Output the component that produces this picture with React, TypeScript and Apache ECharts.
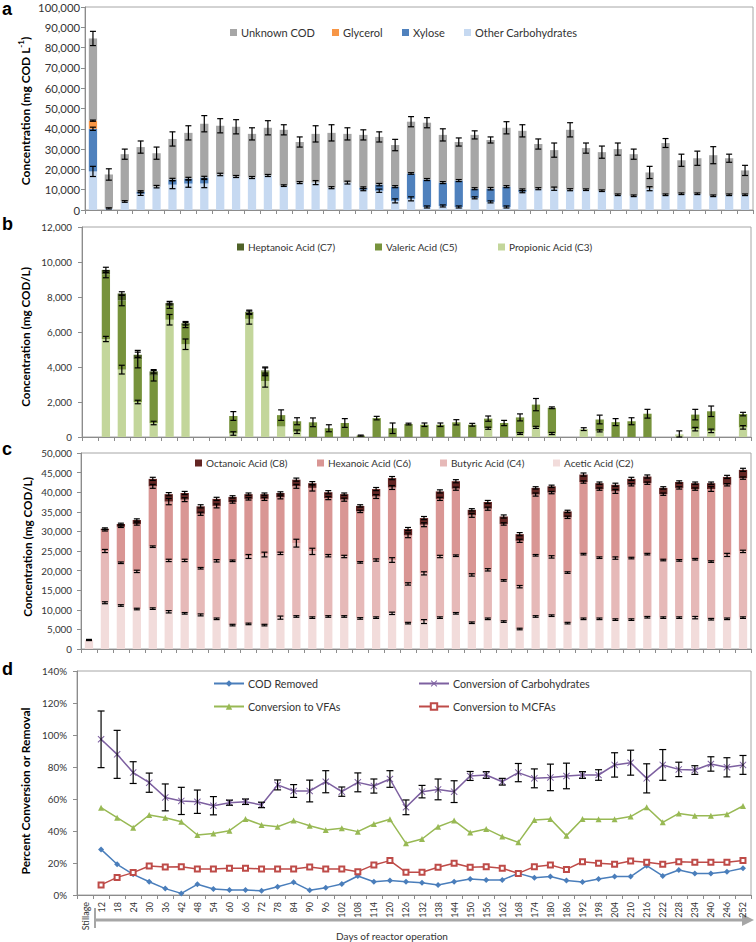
import React, { useEffect, useRef } from 'react';
import * as echarts from 'echarts';

const FONT = 'Lato, "Noto Sans", sans-serif';

const days = ['Stillage','12','18','24','30','36','42','48','54','60','66','72','78','84','90','96','102','108','114','120','126','132','138','144','150','156','162','168','174','180','186','192','198','204','210','216','222','228','234','240','246','252'];

// Panel a (mg COD/L)
const aTotal = [84500, 17500, 27500, 31000, 28000, 35000, 38000, 42500, 41500, 41000, 37500, 40500, 39500, 33500, 37500, 38000, 37500, 37000, 36000,
  32000, 43500, 43000, 37000, 33500, 37000, 34500, 40500, 39000, 32500, 29500, 39500, 30500, 28500, 30000, 27500, 18500, 33000, 24500, 25500, 27000, 25500, 19500];
const aOther = [19000, 800, 4200, 8000, 11500, 12500, 13000, 13000, 17500, 16500, 16000, 17000, 12000, 13500, 13500, 11000, 13500, 10000, 9500,
  4500, 5500, 1500, 2000, 1500, 6000, 4000, 1500, 9000, 10500, 10500, 10000, 10000, 9500, 7500, 7000, 10500, 7500, 8000, 8000, 7000, 7500, 7500];
const aXylose = [21000, 0, 0, 1000, 0, 2500, 2500, 3000, 0, 0, 0, 0, 0, 0, 0, 0, 0, 1000, 3000,
  7000, 12500, 13500, 11500, 13000, 4500, 6500, 10000, 1000, 0, 0, 0, 0, 0, 0, 0, 0, 0, 0, 0, 0, 0, 0];
const aGlycerol = [4000, 0, 0, 0, 0, 0, 0, 0, 0, 0, 0, 0, 0, 0, 0, 0, 0, 0, 0,
  0, 0, 0, 0, 0, 0, 0, 0, 0, 0, 0, 0, 0, 0, 0, 0, 0, 0, 0, 0, 0, 0, 0];
const aErrTotal = [3500, 2800, 2500, 3000, 3000, 3500, 3500, 4000, 3500, 3500, 3000, 3500, 2500, 2500, 4000, 4000, 3000, 2500, 2500,
  2800, 2500, 2500, 3000, 2000, 2000, 1500, 3000, 3000, 2500, 3500, 3500, 2500, 3000, 3000, 2500, 3000, 2200, 3000, 3500, 4200, 2000, 2500];
const aErrOther = [2500, 300, 400, 800, 600, 2000, 1800, 2000, 600, 500, 500, 500, 400, 500, 1000, 500, 700, 500, 800,
  1000, 1000, 500, 500, 500, 500, 500, 500, 500, 500, 800, 500, 400, 400, 400, 400, 1000, 400, 400, 400, 400, 400, 400];
const aErrXylose = [800, 0, 0, 500, 0, 600, 600, 600, 0, 0, 0, 0, 0, 0, 0, 0, 0, 400, 600,
  500, 400, 500, 500, 500, 500, 600, 500, 400, 0, 0, 0, 0, 0, 0, 0, 0, 0, 0, 0, 0, 0, 0];
const aErrGlycerol = [300, 0, 0, 0, 0, 0, 0, 0, 0, 0, 0, 0, 0, 0, 0, 0, 0, 0, 0,
  0, 0, 0, 0, 0, 0, 0, 0, 0, 0, 0, 0, 0, 0, 0, 0, 0, 0, 0, 0, 0, 0, 0];

// Panel b (mg COD/L)
const bC3 = [0, 5600, 3850, 2000, 800, 6700, 5300, 0, 0, 200, 6750, 3200, 600, 300, 0, 0, 0, 0, 0,
  0, 0, 0, 0, 0, 0, 500, 0, 200, 550, 200, 0, 450, 350, 0, 0, 0, 0, 150, 450, 350, 0, 550];
const bC5 = [0, 3700, 3950, 2450, 2700, 800, 1100, 0, 0, 1000, 350, 550, 650, 600, 840, 500, 800, 80, 1080,
  500, 740, 700, 700, 840, 700, 550, 800, 920, 1300, 1470, 0, 0, 650, 850, 900, 1330, 0, 0, 830, 1120, 0, 760];
const bC7 = [0, 250, 400, 250, 250, 150, 100, 0, 0, 0, 50, 50, 0, 0, 0, 0, 0, 0, 0,
  0, 0, 0, 0, 0, 0, 0, 0, 0, 0, 0, 0, 0, 0, 0, 0, 0, 0, 0, 0, 0, 0, 0];
const bErrC3 = [0, 150, 250, 100, 100, 300, 300, 0, 0, 100, 300, 350, 0, 100, 0, 0, 0, 0, 0,
  0, 0, 0, 0, 0, 0, 60, 0, 50, 60, 60, 0, 80, 60, 0, 0, 0, 0, 200, 100, 100, 0, 100];
const bErrC5 = [0, 200, 300, 500, 300, 150, 150, 0, 0, 250, 100, 250, 300, 200, 250, 200, 250, 30, 100,
  300, 50, 100, 100, 150, 80, 150, 150, 200, 350, 50, 0, 0, 250, 200, 200, 250, 0, 0, 300, 300, 0, 100];
const bErrC7 = [0, 150, 100, 150, 100, 100, 100, 0, 0, 0, 100, 150, 0, 0, 0, 0, 0, 0, 0,
  0, 0, 0, 0, 0, 0, 0, 0, 0, 0, 0, 0, 0, 0, 0, 0, 0, 0, 0, 0, 0, 0, 0];

// Panel c (mg COD/L)
const cC2 = [2300, 11800, 11100, 10200, 10300, 9500, 9100, 8700, 7700, 6100, 6400, 6100, 8000, 8300, 8000, 8300, 8300, 7800, 8000,
  9100, 6600, 7000, 8000, 9100, 6700, 7700, 7000, 5100, 8300, 8500, 6600, 7700, 7700, 7500, 7500, 8100, 8000, 8000, 8000, 7600, 7700, 8000];
const cC4 = [0, 13200, 10900, 9600, 15800, 13100, 13500, 11900, 14800, 16400, 17200, 18000, 16400, 18700, 16900, 15500, 15300, 14300, 14700,
  13600, 10000, 12300, 15600, 14700, 12200, 12500, 10500, 10800, 15600, 15000, 12900, 16500, 15600, 15700, 15700, 16100, 14700, 14600, 14900, 14700, 16300, 16900];
const cC6 = [0, 5300, 9200, 12100, 15400, 15000, 15500, 13900, 14000, 15000, 14700, 14200, 14300, 14500, 16200, 14700, 14500, 13000, 16200,
  18500, 12400, 12400, 14700, 17100, 15200, 15600, 14400, 11700, 15500, 16400, 14100, 18400, 17500, 17000, 18700, 18100, 16800, 18500, 17900, 18500, 17900, 18700];
const cC8 = [0, 400, 700, 1000, 1900, 1900, 1700, 1900, 1800, 1300, 1200, 1200, 1100, 1700, 1200, 1500, 1400, 1400, 1900,
  2400, 1600, 1700, 1900, 1900, 1400, 1700, 1900, 1700, 1700, 1600, 1500, 1900, 1500, 1700, 1500, 1700, 1600, 1500, 1500, 1500, 2000, 2100];
const cErrC2 = [150, 250, 200, 200, 200, 300, 200, 250, 200, 200, 200, 200, 400, 200, 200, 200, 200, 200, 200,
  300, 200, 500, 200, 200, 200, 200, 200, 200, 200, 200, 200, 200, 200, 200, 200, 200, 200, 200, 300, 200, 200, 200];
const cErrC4 = [0, 400, 200, 300, 200, 300, 300, 200, 300, 200, 500, 600, 300, 1000, 800, 300, 300, 200, 300,
  600, 300, 400, 300, 200, 300, 300, 200, 300, 200, 300, 200, 200, 200, 300, 200, 200, 200, 200, 200, 200, 400, 300];
const cErrC6 = [0, 200, 200, 300, 500, 800, 500, 400, 500, 300, 300, 400, 400, 500, 800, 400, 400, 300, 500,
  500, 600, 500, 400, 400, 500, 400, 300, 400, 400, 300, 300, 300, 300, 500, 300, 300, 300, 300, 300, 600, 300, 300];
const cErrC8 = [200, 200, 200, 300, 400, 400, 400, 400, 400, 300, 300, 300, 300, 400, 400, 400, 300, 300, 400,
  400, 400, 400, 400, 400, 300, 400, 400, 400, 300, 300, 300, 400, 300, 400, 400, 400, 300, 300, 300, 300, 400, 400];

// Panel d (%)
const dCOD = [null, 28.5, 19.2, 12.9, 8.3, 4.0, 1.0, 6.7, 3.8, 3.1, 3.1, 2.7, 5.2, 7.9, 2.9, 4.6, 6.9, 11.9, 8.3,
  9.0, 8.3, 7.7, 6.3, 8.3, 10.0, 9.4, 9.4, 13.5, 10.8, 11.5, 9.0, 8.1, 10.0, 11.5, 11.5, 18.3, 11.9, 15.6, 13.5, 13.5, 14.6, 16.7];
const dCarb = [null, 97.3, 87.9, 76.5, 70.2, 61.0, 58.8, 58.3, 55.8, 57.7, 58.3, 56.3, 68.8, 65.0, 65.0, 70.8, 64.6, 70.4, 68.1,
  72.5, 54.8, 64.6, 66.0, 64.6, 74.4, 75.0, 70.8, 76.5, 72.9, 73.5, 74.4, 75.0, 75.0, 81.3, 82.7, 72.9, 81.3, 78.5, 78.1, 81.9, 79.8, 81.3];
const dCarbErr = [0, 17.7, 15.0, 6.8, 6.0, 8.4, 8.5, 7.3, 5.7, 1.6, 1.7, 1.7, 3.1, 4.0, 6.8, 6.9, 2.9, 5.9, 4.4,
  5.2, 4.6, 3.9, 6.5, 6.8, 2.8, 2.1, 2.1, 5.7, 5.9, 8.3, 8.0, 2.1, 3.3, 7.6, 7.8, 9.1, 9.6, 4.5, 2.7, 4.5, 6.0, 5.9];
const dVFA = [null, 54.6, 48.3, 42.1, 50.0, 48.3, 45.8, 37.5, 38.5, 40.2, 47.5, 43.8, 42.7, 46.5, 43.3, 40.6, 41.7, 39.6, 44.4,
  47.3, 32.3, 35.0, 42.7, 46.5, 39.0, 41.3, 36.5, 32.9, 46.9, 47.5, 37.1, 47.5, 47.3, 47.3, 49.0, 54.8, 45.4, 51.0, 49.6, 49.6, 50.4, 55.6];
const dMCFA = [null, 6.3, 11.0, 14.0, 18.1, 17.5, 17.7, 16.3, 16.3, 16.7, 16.7, 16.3, 16.3, 16.3, 17.5, 16.3, 16.3, 14.6, 18.8,
  21.5, 14.2, 14.2, 17.3, 19.8, 17.3, 17.7, 16.7, 13.5, 17.7, 18.8, 16.0, 20.8, 19.8, 19.2, 21.3, 20.4, 19.2, 20.8, 20.4, 20.4, 20.4, 21.5];

const aTicks = [0, 100000, 10000];
const bTicks = [0, 12000, 2000];
const cTicks = [0, 50000, 5000];
const dTicks = [0, 140, 20];

function cum(...arrs: number[][]) {
  return arrs[0].map((_, i) => arrs.reduce((s, a) => s + (a[i] || 0), 0));
}

function errSeries(gi: number, tops: (number | null)[], errs: number[], seg: (number | null)[], cap = 3) {
  const data: number[][] = [];
  tops.forEach((t, i) => {
    if (t != null && errs[i] > 0 && (seg[i] || 0) > 0) data.push([i, t as number, errs[i]]);
  });
  return {
    type: 'custom', xAxisIndex: gi, yAxisIndex: gi, silent: true, z: 10,
    encode: { x: 0, y: 1 },
    data,
    renderItem: (params: any, api: any) => {
      const i = api.value(0), v = api.value(1), e = api.value(2);
      const hi = api.coord([i, v + e]);
      const lo = api.coord([i, Math.max(0, v - e)]);
      const style = { stroke: '#000', lineWidth: 1.2 };
      return {
        type: 'group', children: [
          { type: 'line', shape: { x1: hi[0], y1: hi[1], x2: lo[0], y2: lo[1] }, style },
          { type: 'line', shape: { x1: hi[0] - cap, y1: hi[1], x2: hi[0] + cap, y2: hi[1] }, style },
          { type: 'line', shape: { x1: lo[0] - cap, y1: lo[1], x2: lo[0] + cap, y2: lo[1] }, style },
        ],
      };
    },
  };
}

function bar(name: string, gi: number, data: number[], color: string, stack: string) {
  return { type: 'bar', name, xAxisIndex: gi, yAxisIndex: gi, stack, data, barWidth: '52%', itemStyle: { color }, emphasis: { disabled: true } };
}

function lg(name: string, left: number, top: number, size: number, line = false) {
  return {
    data: [name], left, top, padding: 0, orient: 'horizontal',
    itemWidth: line ? 30 : 7, itemHeight: line ? 8 : 7, itemGap: 4,
    ...(line ? {} : { icon: 'rect' }),
    textStyle: { fontFamily: FONT, fontSize: size, color: '#333', padding: [0, 0, 0, -1] },
    selectedMode: false,
  };
}

function buildOption() {
  const grids = [
    { left: 85, right: 3, top: 7, height: 203 },
    { left: 82, right: 5, top: 227, height: 210 },
    { left: 81, right: 5, top: 453, height: 196 },
    { left: 77, right: 5, top: 671, height: 224 },
  ].map(g => ({ ...g, show: true, borderColor: '#a6a6a6', borderWidth: 1, containLabel: false }));

  const xAxis = [0, 1, 2, 3].map(i => ({
    type: 'category', gridIndex: i, data: days, boundaryGap: true,
    axisLine: { lineStyle: { color: '#8c8c8c', width: 1 } },
    axisTick: { show: true, interval: 0, length: 4, lineStyle: { color: '#8c8c8c' } },
    axisLabel: { show: i === 3, interval: 0, rotate: 90, fontFamily: FONT, fontSize: 9, color: '#333', margin: 7 },
    splitLine: { show: false },
  }));

  const commaFmt = (v: number) => v.toLocaleString('en-US');
  const ticks = [aTicks, bTicks, cTicks, dTicks];
  const sizes = [11.3, 9.8, 9.8, 9.8];
  const margins = [5, 10, 9, 10];
  const yAxis = [0, 1, 2, 3].map(i => ({
    type: 'value', gridIndex: i, min: ticks[i][0], max: ticks[i][1], interval: ticks[i][2],
    axisLine: { show: true, lineStyle: { color: '#8c8c8c', width: 1 } },
    axisTick: { show: true, length: 4, lineStyle: { color: '#8c8c8c' } },
    splitLine: { show: false },
    axisLabel: {
      fontFamily: FONT, fontSize: sizes[i], color: '#333', margin: margins[i],
      formatter: i === 3 ? (v: number) => v + '%' : commaFmt,
    },
  }));

  const aUnknown = aTotal.map((t, i) => t - aOther[i] - aXylose[i] - aGlycerol[i]);
  const aX = cum(aOther, aXylose);
  const aG = cum(aOther, aXylose, aGlycerol);
  const bT5 = cum(bC3, bC5);
  const bT7 = cum(bC3, bC5, bC7);
  const cT4 = cum(cC2, cC4);
  const cT6 = cum(cC2, cC4, cC6);
  const cT8 = cum(cC2, cC4, cC6, cC8);

  const xSym = 'path://M1,0L5,4L9,0L10,1L6,5L10,9L9,10L5,6L1,10L0,9L4,5L0,1Z';

  const series: any[] = [
    bar('Other Carbohydrates', 0, aOther, '#C6D9F1', 'a'),
    bar('Xylose', 0, aXylose, '#4F81BD', 'a'),
    bar('Glycerol', 0, aGlycerol, '#F79646', 'a'),
    bar('Unknown COD', 0, aUnknown, '#A6A6A6', 'a'),
    errSeries(0, aOther, aErrOther, aOther),
    errSeries(0, aX, aErrXylose, aXylose),
    errSeries(0, aG, aErrGlycerol, aGlycerol),
    errSeries(0, aTotal, aErrTotal, aTotal),

    bar('Propionic Acid (C3)', 1, bC3, '#C3D69B', 'b'),
    bar('Valeric Acid (C5)', 1, bC5, '#77933C', 'b'),
    bar('Heptanoic Acid (C7)', 1, bC7, '#4F6228', 'b'),
    errSeries(1, bC3, bErrC3, bC3),
    errSeries(1, bT5, bErrC5, bC5),
    errSeries(1, bT7, bErrC7, bC7),

    bar('Acetic Acid (C2)', 2, cC2, '#F2DCDB', 'c'),
    bar('Butyric Acid (C4)', 2, cC4, '#E6B9B8', 'c'),
    bar('Hexanoic Acid (C6)', 2, cC6, '#D99694', 'c'),
    bar('Octanoic Acid (C8)', 2, cC8, '#632523', 'c'),
    errSeries(2, cC2, cErrC2, cC2),
    errSeries(2, cT4, cErrC4, cC4),
    errSeries(2, cT6, cErrC6, cC6),
    errSeries(2, cT8, cErrC8, cC8),

    {
      type: 'line', name: 'COD Removed', xAxisIndex: 3, yAxisIndex: 3, data: dCOD,
      symbol: 'diamond', symbolSize: 6, color: '#4A7EBB', lineStyle: { width: 1.5 }, z: 5,
    },
    {
      type: 'line', name: 'Conversion of Carbohydrates', xAxisIndex: 3, yAxisIndex: 3, data: dCarb,
      symbol: xSym, symbolSize: 7, color: '#7D60A0', lineStyle: { width: 1.5 }, z: 5,
    },
    {
      type: 'line', name: 'Conversion to VFAs', xAxisIndex: 3, yAxisIndex: 3, data: dVFA,
      symbol: 'triangle', symbolSize: 6, color: '#98B954', lineStyle: { width: 1.5 }, z: 5,
    },
    {
      type: 'line', name: 'Conversion to MCFAs', xAxisIndex: 3, yAxisIndex: 3, data: dMCFA,
      symbol: 'emptyRect', symbolSize: 5, color: '#BE4B48', lineStyle: { width: 1.5 }, z: 5,
    },
    errSeries(3, dCarb, dCarbErr, dCarb, 3.5),
  ];

  const legend = [
    lg('Unknown COD', 230, 27, 11), lg('Glycerol', 332, 27, 11), lg('Xylose', 402, 27, 11), lg('Other Carbohydrates', 464, 27, 11),
    lg('Heptanoic Acid (C7)', 237, 242, 10), lg('Valeric Acid (C5)', 375, 242, 10), lg('Propionic Acid (C3)', 498, 242, 10),
    lg('Octanoic Acid (C8)', 195, 458, 10), lg('Hexanoic Acid (C6)', 317, 458, 10), lg('Butyric Acid (C4)', 440, 458, 10), lg('Acetic Acid (C2)', 553, 458, 10),
    lg('COD Removed', 213, 678, 10.7, true), lg('Conversion of Carbohydrates', 418, 678, 10.7, true),
    lg('Conversion to VFAs', 213, 701, 10.7, true), lg('Conversion to MCFAs', 418, 701, 10.7, true),
  ];

  const titleRich = {
    b: { fontFamily: FONT, fontSize: 12, fontWeight: 'bold', fill: '#000' },
    s: { fontFamily: FONT, fontSize: 8, fontWeight: 'bold', fill: '#000', padding: [0, 0, 8, 0] },
  };
  const ytitle = (x: number, y: number, text: string, size = 12) => ({
    type: 'text', x, y, rotation: Math.PI / 2,
    style: { text, fontFamily: FONT, fontSize: size, fontWeight: 'bold', fill: '#000', align: 'center', verticalAlign: 'middle', rich: titleRich },
  });
  const letter = (x: number, y: number, t: string) => ({
    type: 'text', x, y,
    style: { text: t, fontFamily: '"Liberation Sans", Arial, sans-serif', fontSize: 18, fontWeight: 'bold', fill: '#000', align: 'left', verticalAlign: 'top' },
  });

  const graphic = [
    letter(2, 0, 'a'), letter(2, 215, 'b'), letter(2, 440, 'c'), letter(2, 660, 'd'),
    ytitle(25, 111, '{b|Concentration (mg COD L}{s|-1}{b|)}'),
    ytitle(25, 337, 'Concentration (mg COD/L)', 11.7),
    ytitle(27, 547, 'Concentration (mg COD/L)', 11.7),
    ytitle(25, 791, 'Percent Conversion or Removal', 12),
    { type: 'line', shape: { x1: 95, y1: 920, x2: 744, y2: 920 }, style: { stroke: '#a6a6a6', lineWidth: 3 } },
    { type: 'line', shape: { x1: 95, y1: 908, x2: 95, y2: 928 }, style: { stroke: '#a6a6a6', lineWidth: 2 } },
    { type: 'polygon', shape: { points: [[742, 914], [754, 920], [742, 926]] }, style: { fill: '#a6a6a6' } },
    {
      type: 'text', x: 392, y: 936,
      style: { text: 'Days of reactor operation', fontFamily: FONT, fontSize: 10, fill: '#333', align: 'center', verticalAlign: 'middle' },
    },
  ];

  return {
    animation: false,
    backgroundColor: '#fff',
    grid: grids,
    xAxis, yAxis, series, legend, graphic,
    tooltip: { show: false },
  };
}

export default function App() {
  const ref = useRef<HTMLDivElement>(null);
  useEffect(() => {
    const chart = echarts.init(ref.current!, null, { renderer: 'svg' });
    chart.setOption(buildOption() as any);
    return () => chart.dispose();
  }, []);
  return <div ref={ref} style={{ position: 'absolute', left: 0, top: 0, width: 756, height: 942, background: '#fff' }} />;
}
